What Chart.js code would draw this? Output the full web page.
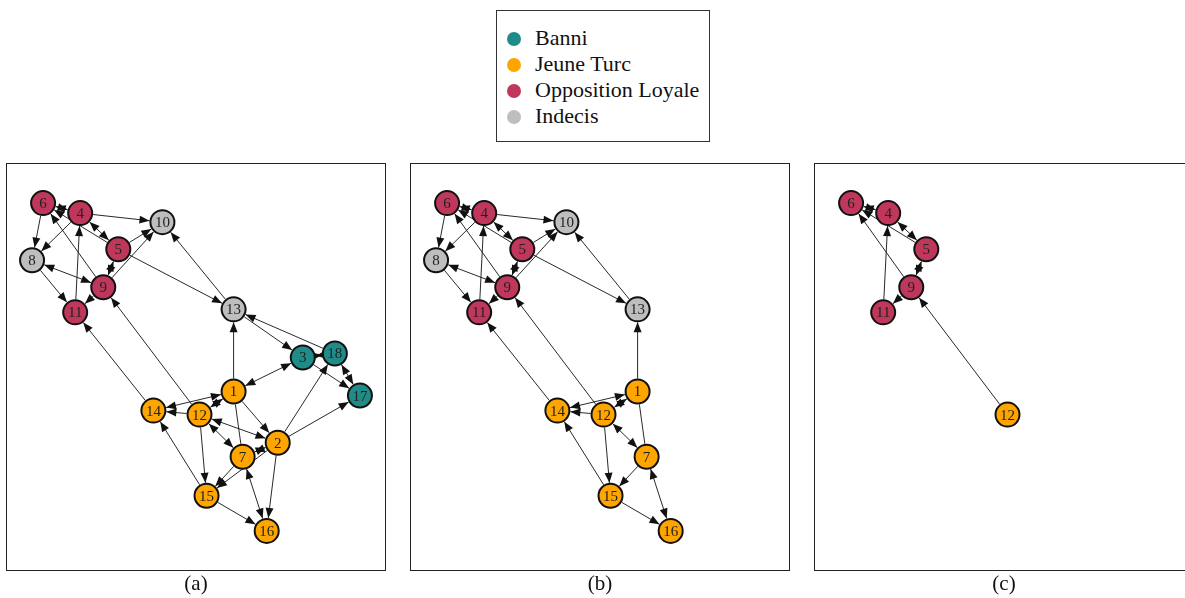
<!DOCTYPE html>
<html>
<head>
<meta charset="utf-8">
<script src="https://cdn.jsdelivr.net/npm/chart.js@4"></script>
<style>
  body { margin: 0; width: 1185px; height: 598px; overflow: hidden; background: #fff; position: relative; font-family: "Liberation Serif", serif; }
  .panel { position: absolute; top: 163px; width: 380px; height: 408px; }
  .cap { position: absolute; top: 570px; width: 380px; text-align: center; font-size: 21px; line-height: 26px; color: #111; }
  #legend { position: absolute; left: 496px; top: 10px; width: 212px; height: 130px; border: 1px solid #333; }
  .item { position: absolute; left: 10px; font-size: 22px; line-height: 26px; color: #111; white-space: nowrap; }
  .dot { display: inline-block; width: 14px; height: 14px; border-radius: 50%; margin-right: 14px; vertical-align: -1px; }
</style>
</head>
<body>
<div id="legend"></div>
<div class="panel" style="left:6px"><canvas id="pa"></canvas></div>
<div class="panel" style="left:410px"><canvas id="pb"></canvas></div>
<div class="panel" style="left:814px"><canvas id="pc"></canvas></div>
<div class="cap" style="left:6px">(a)</div>
<div class="cap" style="left:410px">(b)</div>
<div class="cap" style="left:814px">(c)</div>
<script>
// groups
const groupNames = ["Banni", "Jeune Turc", "Opposition Loyale", "Indecis"];
const groupColors = ["#1f8c89", "#ffa500", "#bf375a", "#bebebe"];

// node layout (same in every panel)
const nodeIds   = [6, 4, 10, 5, 8, 9, 11, 13, 3, 18, 17, 1, 14, 12, 2, 7, 15, 16];
const nodeX     = [37, 74, 156, 112, 26, 97, 69, 227, 296, 328, 353, 227, 147, 193, 271, 236, 200, 260];
const nodeY     = [367, 357, 348, 321, 310, 283, 258, 261, 213, 217, 175, 179, 160, 156, 128, 114, 75, 40];
const nodeGroup = [2, 2, 3, 2, 3, 2, 2, 3, 0, 0, 0, 1, 1, 1, 1, 1, 1, 1];

// directed edges: from, to, arrows (1 = one head, 2 = both, 0 = none)
const edgeFrom = [4, 5, 9, 6, 4, 4, 4, 5, 9, 13, 5, 9, 9, 8, 9, 11, 14, 12, 1, 18, 13, 3, 3, 3, 18, 2, 2, 1, 12, 1, 1, 7, 12, 12, 2, 2, 7, 12, 15, 15, 7, 2];
const edgeTo   = [6, 6, 6, 8, 8, 5, 10, 10, 10, 10, 13, 5, 8, 11, 11, 4, 11, 9, 13, 13, 3, 1, 18, 17, 17, 18, 17, 14, 14, 12, 2, 1, 2, 7, 7, 15, 15, 15, 14, 16, 16, 16];
const edgeArr  = [2, 1, 1, 1, 1, 2, 1, 1, 1, 1, 1, 2, 2, 1, 1, 1, 1, 1, 1, 1, 1, 2, 2, 1, 2, 1, 1, 2, 1, 2, 1, 0, 2, 2, 2, 1, 1, 1, 1, 1, 2, 1];

// nodes kept in each panel
const panelA = [6, 4, 10, 5, 8, 9, 11, 13, 3, 18, 17, 1, 14, 12, 2, 7, 15, 16];
const panelB = [6, 4, 10, 5, 8, 9, 11, 13, 1, 14, 12, 7, 15, 16];
const panelC = [6, 4, 5, 9, 11, 12];

// legend
const legend = document.getElementById("legend");
groupNames.forEach(function (g, i) {
  const d = document.createElement("div");
  d.className = "item";
  d.style.top = (14 + i * 26) + "px";
  d.innerHTML = '<span class="dot" style="background:' + groupColors[i] + '"></span>' + g;
  legend.appendChild(d);
});

const R = 12;

function drawArrow(ctx, x1, y1, x2, y2) {
  const a = Math.atan2(y2 - y1, x2 - x1);
  const L = 10, W = 4;
  ctx.beginPath();
  ctx.moveTo(x2, y2);
  ctx.lineTo(x2 - L * Math.cos(a) + W * Math.sin(a), y2 - L * Math.sin(a) - W * Math.cos(a));
  ctx.lineTo(x2 - L * Math.cos(a) - W * Math.sin(a), y2 - L * Math.sin(a) + W * Math.cos(a));
  ctx.closePath();
  ctx.fill();
}

const edgePlugin = {
  id: "edges",
  beforeDatasetsDraw(chart) {
    const ids = chart.options.plugins.edges.nodes;
    const ctx = chart.ctx, sx = chart.scales.x, sy = chart.scales.y;
    ctx.save();
    ctx.strokeStyle = "#111";
    ctx.fillStyle = "#111";
    ctx.lineWidth = 0.9;
    for (let e = 0; e < edgeFrom.length; e++) {
      if (ids.indexOf(edgeFrom[e]) < 0 || ids.indexOf(edgeTo[e]) < 0) continue;
      const i = nodeIds.indexOf(edgeFrom[e]), j = nodeIds.indexOf(edgeTo[e]);
      const x1 = sx.getPixelForValue(nodeX[i]), y1 = sy.getPixelForValue(nodeY[i]);
      const x2 = sx.getPixelForValue(nodeX[j]), y2 = sy.getPixelForValue(nodeY[j]);
      const d = Math.hypot(x2 - x1, y2 - y1), ux = (x2 - x1) / d, uy = (y2 - y1) / d;
      const ax = x1 + ux * (R + 1), ay = y1 + uy * (R + 1);
      const bx = x2 - ux * (R + 1), by = y2 - uy * (R + 1);
      ctx.beginPath();
      ctx.moveTo(ax, ay);
      ctx.lineTo(bx, by);
      ctx.stroke();
      if (edgeArr[e] >= 1) drawArrow(ctx, ax, ay, bx, by);
      if (edgeArr[e] === 2) drawArrow(ctx, bx, by, ax, ay);
    }
    ctx.restore();
  },
  afterDatasetsDraw(chart) {
    const ids = chart.options.plugins.edges.nodes;
    const ctx = chart.ctx, sx = chart.scales.x, sy = chart.scales.y;
    ctx.save();
    ctx.fillStyle = "#222";
    ctx.font = '15px "Liberation Serif"';
    ctx.textAlign = "center";
    ctx.textBaseline = "middle";
    ids.forEach(function (id) {
      const i = nodeIds.indexOf(id);
      ctx.fillText(String(id), sx.getPixelForValue(nodeX[i]), sy.getPixelForValue(nodeY[i]) + 1);
    });
    // frame
    const a = chart.chartArea;
    ctx.strokeStyle = "#222";
    ctx.lineWidth = 1;
    ctx.strokeRect(a.left + 0.5, a.top + 0.5, a.right - a.left - 1, a.bottom - a.top - 1);
    ctx.restore();
  }
};

function makePanel(canvasId, ids) {
  const datasets = groupNames.map(function (g, gi) {
    return {
      label: g,
      data: ids.filter(function (id) { return nodeGroup[nodeIds.indexOf(id)] === gi; })
               .map(function (id) { const i = nodeIds.indexOf(id); return { x: nodeX[i], y: nodeY[i] }; }),
      backgroundColor: groupColors[gi],
      borderColor: "#111",
      borderWidth: 2,
      pointRadius: R,
      pointHoverRadius: R,
      clip: false
    };
  });
  new Chart(document.getElementById(canvasId), {
    type: "scatter",
    data: { datasets: datasets },
    options: {
      responsive: true,
      maintainAspectRatio: false,
      animation: false,
      layout: { padding: 0, autoPadding: false },
      scales: {
        x: { display: false, min: 0, max: 379 },
        y: { display: false, min: 0, max: 407 }
      },
      plugins: {
        legend: { display: false },
        tooltip: { enabled: false },
        edges: { nodes: ids }
      }
    },
    plugins: [edgePlugin]
  });
}

makePanel("pa", panelA);
makePanel("pb", panelB);
makePanel("pc", panelC);
</script>
</body>
</html>
